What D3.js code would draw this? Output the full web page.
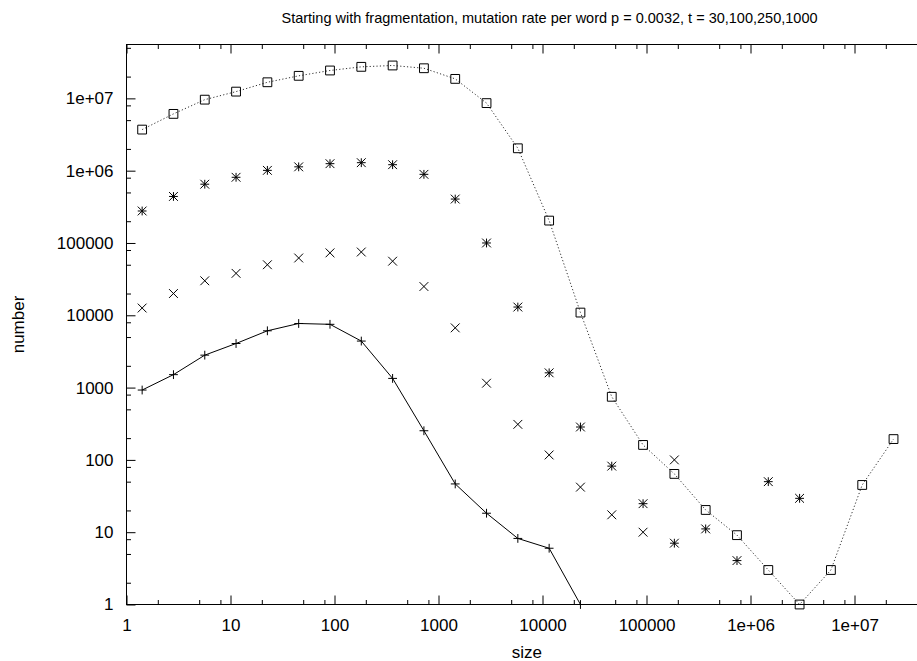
<!DOCTYPE html>
<html>
<head>
<meta charset="utf-8">
<script src="https://cdn.jsdelivr.net/npm/d3@7"></script>
<style>
  html, body { margin: 0; padding: 0; background: #fff; }
  svg { display: block; }
  text { font-family: "Liberation Sans", Arial, Helvetica, sans-serif; fill: #000; }
</style>
</head>
<body>
<svg id="chart" width="917" height="661"></svg>
<script>
// ---- data ----
const sizes = [1.414, 2.828, 5.657, 11.31, 22.63, 45.25, 90.51, 181.0, 362.0, 724.1,
  1448, 2896, 5793, 11585, 23170, 46341, 92682, 185364, 370728, 741455,
  1482910, 2965821, 5931642, 11863283, 23726566];
const t30 = [925, 1510, 2810, 4070, 6100, 7700, 7500, 4400, 1340, 253, 46.5, 18.3, 8.2, 6.0, 1];
const t100 = [12600, 20000, 30000, 38000, 50000, 62000, 73000, 75000, 56000, 25000, 6700, 1150, 310, 117, 42, 17.4, 10, 100];
const t250 = [277000, 440000, 650000, 810000, 1010000, 1130000, 1250000, 1290000, 1210000, 890000, 405000, 100000, 13000, 1600, 285, 82, 24.8, 7.05, 11.1, 4.05, 50, 29.4];
const t1000 = [3700000, 6100000, 9600000, 12400000, 16700000, 20500000, 24300000, 27300000, 28500000, 26100000, 18600000, 8600000, 2040000, 204000, 10900, 746, 161, 64, 20.3, 9.1, 3.0, 1, 3.0, 45, 194];
const majorTicks = [1, 10, 100, 1000, 10000, 100000, 1e6, 1e7];
const majorLabels = ["1", "10", "100", "1000", "10000", "100000", "1e+06", "1e+07"];
const minorMultipliers = [2, 5, 8];
const titleText = "Starting with fragmentation, mutation rate per word p = 0.0032, t = 30,100,250,1000";
const xLabel = "size";
const yLabel = "number";

// ---- layout ----
const svg = d3.select("#chart");
const pLeft = 126.5, pBottom = 604.5, pTop = 44.5;
const xMax = 5e7, yMax = 5.56e7;
const x = d3.scaleLog().domain([1, xMax]).range([pLeft, pLeft + 104 * Math.log10(xMax)]);
const y = d3.scaleLog().domain([1, yMax]).range([pBottom, pTop]);
const pRight = x.range()[1];

const minorTicks = [];
majorTicks.forEach(m => minorMultipliers.forEach(k => minorTicks.push(m * k)));
const fmt = d => { const i = majorTicks.indexOf(d); return i >= 0 ? majorLabels[i] : ""; };

function styleAxis(g) {
  g.selectAll("path.domain").remove();
  g.selectAll("line").attr("stroke", "#000").attr("stroke-width", 1);
  g.selectAll("text").attr("font-size", 17).attr("font-family", '"Liberation Sans", Arial, sans-serif').attr("fill", "#000");
}

// bottom
svg.append("g").attr("transform", `translate(0,${pBottom})`)
  .call(d3.axisBottom(x).tickValues(majorTicks).tickFormat(fmt).tickSize(-9).tickSizeOuter(0).tickPadding(14))
  .call(styleAxis);
svg.append("g").attr("transform", `translate(0,${pBottom})`)
  .call(d3.axisBottom(x).tickValues(minorTicks.filter(v => v < xMax)).tickFormat("").tickSize(-4.5).tickSizeOuter(0))
  .call(styleAxis);
// top
svg.append("g").attr("transform", `translate(0,${pTop})`)
  .call(d3.axisTop(x).tickValues(majorTicks).tickFormat("").tickSize(-9).tickSizeOuter(0))
  .call(styleAxis);
svg.append("g").attr("transform", `translate(0,${pTop})`)
  .call(d3.axisTop(x).tickValues(minorTicks.filter(v => v < xMax)).tickFormat("").tickSize(-4.5).tickSizeOuter(0))
  .call(styleAxis);
// left
svg.append("g").attr("transform", `translate(${pLeft},0)`)
  .call(d3.axisLeft(y).tickValues(majorTicks).tickFormat(fmt).tickSize(-9).tickSizeOuter(0).tickPadding(13))
  .call(styleAxis);
svg.append("g").attr("transform", `translate(${pLeft},0)`)
  .call(d3.axisLeft(y).tickValues(minorTicks.filter(v => v < yMax)).tickFormat("").tickSize(-4.5).tickSizeOuter(0))
  .call(styleAxis);

// frame
svg.append("rect").attr("x", pLeft).attr("y", pTop).attr("width", pRight - pLeft).attr("height", pBottom - pTop)
  .attr("fill", "none").attr("stroke", "#000").attr("stroke-width", 1);

// clip
svg.append("clipPath").attr("id", "plotclip").append("rect")
  .attr("x", pLeft - 8).attr("y", pTop - 8).attr("width", pRight - pLeft + 16).attr("height", pBottom - pTop + 16);
const plot = svg.append("g").attr("clip-path", "url(#plotclip)");

const line = d3.line().x((d, i) => x(sizes[i])).y(d => y(d));

// t30 solid line with plus
plot.append("path").datum(t30).attr("d", line).attr("fill", "none").attr("stroke", "#000").attr("stroke-width", 1);
// t1000 dotted line with boxes
plot.append("path").datum(t1000).attr("d", line).attr("fill", "none").attr("stroke", "#333")
  .attr("stroke-width", 1).attr("stroke-dasharray", "1.2,2.2");

const r = 4.4;
function marker(data, kind) {
  const g = plot.append("g").attr("fill", "none").attr("stroke", "#000").attr("stroke-width", 1);
  g.selectAll("path").data(data).enter().append("path")
    .attr("d", (d, i) => {
      const cx = x(sizes[i]), cy = y(d);
      const plus = `M${cx - r},${cy}H${cx + r}M${cx},${cy - r}V${cy + r}`;
      const cross = `M${cx - r},${cy - r}L${cx + r},${cy + r}M${cx - r},${cy + r}L${cx + r},${cy - r}`;
      if (kind === "plus") return plus;
      if (kind === "cross") return cross;
      if (kind === "star") return plus + cross;
      return `M${cx - r},${cy - r}H${cx + r}V${cy + r}H${cx - r}Z`;
    });
}
marker(t30, "plus");
marker(t100, "cross");
marker(t250, "star");
marker(t1000, "box");

// titles
svg.append("text").attr("x", 549.5).attr("y", 23).attr("text-anchor", "middle")
  .attr("font-size", 14.5).text(titleText);
svg.append("text").attr("x", (pLeft + pRight) / 2).attr("y", 658).attr("text-anchor", "middle")
  .attr("font-size", 17).text(xLabel);
svg.append("text").attr("transform", `translate(24,${(pTop + pBottom) / 2}) rotate(-90)`).attr("text-anchor", "middle")
  .attr("font-size", 17).text(yLabel);
</script>
</body>
</html>
